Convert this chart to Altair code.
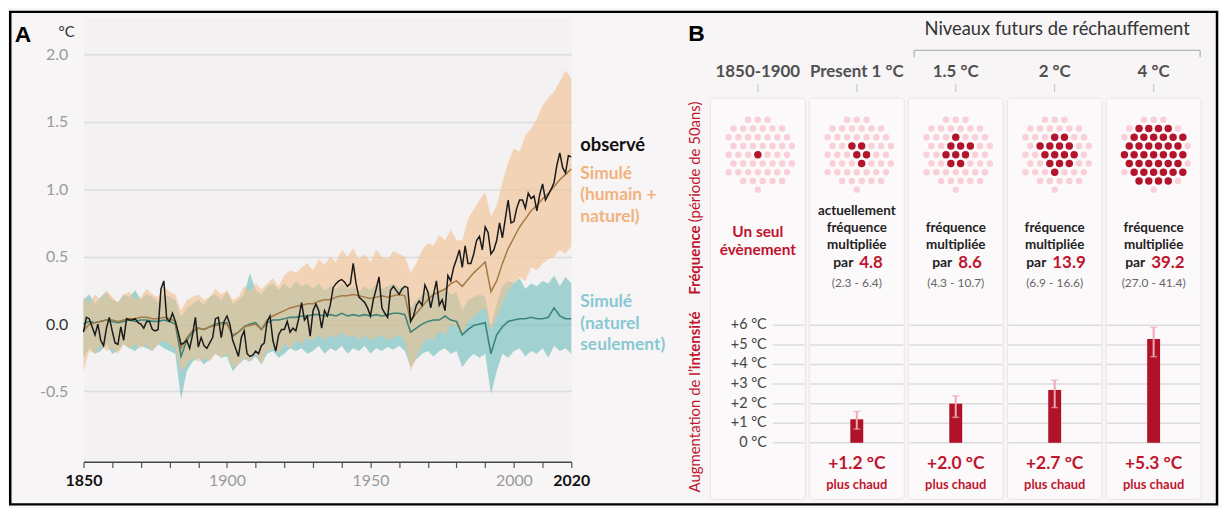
import altair as alt
import pandas as pd
import numpy as np

# ======================= DATA : panel A =======================
obs_years = list(range(1850, 2021))
obs_vals = [
    -0.06, 0.05, 0.04, -0.02, -0.08, 0.00, -0.12, -0.16, -0.03, 0.05,
    -0.05, -0.14, -0.15, -0.02, -0.12, 0.04, 0.03, 0.03, 0.04, 0.01,
    0.00, -0.03, 0.02, 0.02, -0.04, -0.05, -0.04, 0.26, 0.32, 0.04,
    0.02, 0.08, 0.02, -0.06, -0.15, -0.14, -0.12, -0.18, -0.08, 0.05,
    -0.17, -0.10, -0.16, -0.18, -0.14, -0.10, 0.04, 0.05, -0.10, 0.02,
    0.06, 0.00, -0.12, -0.18, -0.24, -0.10, -0.05, -0.22, -0.24, -0.23,
    -0.20, -0.22, -0.16, -0.14, 0.02, 0.06, -0.12, -0.20, -0.08, -0.04,
    -0.04, 0.02, -0.06, -0.03, -0.05, 0.04, 0.16, 0.03, 0.06, -0.09,
    0.10, 0.15, 0.10, -0.03, 0.10, 0.06, 0.14, 0.27, 0.30, 0.32,
    0.33, 0.31, 0.28, 0.30, 0.45, 0.30, 0.20, 0.18, 0.16, 0.12,
    0.06, 0.18, 0.26, 0.35, 0.12, 0.08, 0.05, 0.25, 0.28, 0.25,
    0.22, 0.26, 0.28, 0.27, 0.02, 0.06, 0.14, 0.17, 0.14, 0.29,
    0.24, 0.12, 0.22, 0.32, 0.14, 0.18, 0.10, 0.36, 0.32, 0.42,
    0.48, 0.55, 0.42, 0.58, 0.45, 0.45, 0.52, 0.62, 0.65, 0.55,
    0.72, 0.68, 0.52, 0.55, 0.62, 0.75, 0.64, 0.78, 0.92, 0.75,
    0.76, 0.86, 0.92, 0.92, 0.86, 0.97, 0.93, 0.95, 0.84, 0.96,
    1.04, 0.92, 0.96, 1.00, 1.05, 1.18, 1.27, 1.16, 1.12, 1.25,
    1.24,
]

sim_years = list(range(1850, 2021, 2))
hn_mean = [
    -0.05, 0.00, 0.01, 0.02, 0.03, 0.03, 0.02, 0.03, 0.04, 0.04,
    0.05, 0.05, 0.04, 0.04, 0.05, 0.04, 0.02, -0.18, -0.10, -0.05,
    -0.03, -0.04, -0.02, -0.01, 0.00, 0.00, -0.08, -0.06, -0.02, -0.01,
    0.00, -0.04, 0.03, 0.06, 0.08, 0.10, 0.12, 0.13, 0.14, 0.15,
    0.15, 0.17, 0.18, 0.18, 0.20, 0.21, 0.21, 0.22, 0.21, 0.20,
    0.19, 0.20, 0.21, 0.20, 0.21, 0.22, 0.21, 0.02, 0.08, 0.13,
    0.18, 0.22, 0.24, 0.26, 0.30, 0.32, 0.28, 0.33, 0.38, 0.42,
    0.46, 0.24, 0.32, 0.45, 0.56, 0.64, 0.72, 0.78, 0.84, 0.88,
    0.93, 0.97, 1.02, 1.07, 1.11, 1.15,
]
hn_hi = [
    0.20, 0.15, 0.22, 0.18, 0.25, 0.20, 0.16, 0.22, 0.24, 0.18,
    0.20, 0.26, 0.22, 0.20, 0.28, 0.24, 0.22, 0.10, 0.18, 0.20,
    0.22, 0.18, 0.20, 0.26, 0.22, 0.25, 0.18, 0.20, 0.28, 0.24,
    0.30, 0.26, 0.30, 0.34, 0.28, 0.36, 0.40, 0.38, 0.42, 0.45,
    0.40, 0.48, 0.44, 0.50, 0.46, 0.55, 0.50, 0.56, 0.48, 0.52,
    0.46, 0.55, 0.50, 0.48, 0.54, 0.52, 0.50, 0.38, 0.45, 0.55,
    0.60, 0.58, 0.66, 0.62, 0.70, 0.62, 0.62, 0.78, 0.85, 0.92,
    0.98, 0.80, 0.88, 1.05, 1.20, 1.30, 1.28, 1.40, 1.45, 1.52,
    1.62, 1.68, 1.72, 1.80, 1.88, 1.82,
]
hn_lo = [
    -0.35, -0.20, -0.22, -0.15, -0.20, -0.18, -0.22, -0.15, -0.18, -0.15,
    -0.18, -0.15, -0.20, -0.15, -0.12, -0.15, -0.18, -0.35, -0.30, -0.25,
    -0.28, -0.25, -0.28, -0.22, -0.25, -0.22, -0.32, -0.30, -0.25, -0.28,
    -0.22, -0.30, -0.20, -0.18, -0.22, -0.15, -0.18, -0.12, -0.15, -0.10,
    -0.12, -0.08, -0.12, -0.08, -0.10, -0.06, -0.10, -0.08, -0.12, -0.08,
    -0.12, -0.10, -0.08, -0.12, -0.10, -0.08, -0.12, -0.35, -0.25, -0.15,
    -0.10, -0.12, -0.05, -0.08, 0.00, -0.02, -0.08, 0.02, 0.05, 0.10,
    0.12, -0.05, 0.05, 0.15, 0.25, 0.30, 0.35, 0.32, 0.42, 0.40,
    0.45, 0.48, 0.50, 0.55, 0.52, 0.58,
]
nat_mean = [
    0.00, 0.02, 0.01, 0.02, 0.03, 0.02, 0.01, 0.02, 0.03, 0.02,
    0.03, 0.03, 0.02, 0.02, 0.03, 0.02, 0.00, -0.24, -0.12, -0.06,
    -0.03, -0.04, -0.02, 0.00, 0.01, 0.01, -0.09, -0.06, -0.02, 0.00,
    0.01, -0.04, 0.01, 0.03, 0.03, 0.04, 0.05, 0.05, 0.06, 0.06,
    0.07, 0.07, 0.06, 0.07, 0.06, 0.08, 0.06, 0.07, 0.06, 0.07,
    0.06, 0.07, 0.06, 0.07, 0.08, 0.08, 0.07, -0.06, -0.03, 0.00,
    0.02, 0.03, 0.03, 0.06, 0.03, 0.02, -0.08, -0.04, -0.01, 0.00,
    0.01, -0.22, -0.08, -0.02, 0.02, 0.03, 0.04, 0.04, 0.05, 0.04,
    0.04, 0.05, 0.12, 0.06, 0.04, 0.04,
]
nat_hi = [
    0.18, 0.22, 0.15, 0.20, 0.24, 0.18, 0.16, 0.22, 0.20, 0.25,
    0.18, 0.22, 0.20, 0.16, 0.22, 0.20, 0.18, 0.05, 0.12, 0.15,
    0.18, 0.14, 0.20, 0.22, 0.18, 0.24, 0.15, 0.18, 0.22, 0.38,
    0.25, 0.22, 0.28, 0.30, 0.25, 0.30, 0.26, 0.32, 0.28, 0.30,
    0.26, 0.30, 0.25, 0.28, 0.26, 0.30, 0.26, 0.28, 0.24, 0.28,
    0.25, 0.30, 0.26, 0.28, 0.30, 0.27, 0.28, 0.12, 0.18, 0.22,
    0.25, 0.22, 0.24, 0.26, 0.22, 0.24, 0.10, 0.18, 0.20, 0.22,
    0.20, -0.02, 0.15, 0.28, 0.32, 0.30, 0.34, 0.26, 0.30, 0.28,
    0.32, 0.30, 0.36, 0.28, 0.35, 0.30,
]
nat_lo = [
    -0.25, -0.18, -0.22, -0.20, -0.15, -0.22, -0.20, -0.15, -0.18, -0.20,
    -0.16, -0.18, -0.20, -0.15, -0.18, -0.20, -0.22, -0.56, -0.35, -0.28,
    -0.25, -0.30, -0.26, -0.22, -0.25, -0.24, -0.35, -0.30, -0.26, -0.28,
    -0.24, -0.30, -0.22, -0.20, -0.25, -0.22, -0.18, -0.20, -0.18, -0.22,
    -0.20, -0.16, -0.22, -0.18, -0.20, -0.16, -0.22, -0.18, -0.20, -0.16,
    -0.22, -0.18, -0.20, -0.17, -0.19, -0.16, -0.20, -0.32, -0.26, -0.22,
    -0.20, -0.24, -0.20, -0.18, -0.22, -0.20, -0.32, -0.26, -0.22, -0.25,
    -0.22, -0.52, -0.35, -0.22, -0.25, -0.20, -0.18, -0.24, -0.20, -0.22,
    -0.18, -0.25, -0.16, -0.20, -0.18, -0.22,
]

x_ticks_a = list(range(1850, 2021, 10))
x_labels_a = [1850, 1900, 1950, 2000, 2020]
y_ticks_a = [-0.5, 0.0, 0.5, 1.0, 1.5, 2.0]

legend_text = ["observé", "Simulé", "(humain +", "naturel)", "Simulé", "(naturel", "seulement)"]
legend_y = [1.33, 1.115, 0.955, 0.792, 0.166, 0.004, -0.158]

# ======================= DATA : panel B =======================
periods = ["1850-1900", "Present 1 °C", "1.5 °C", "2 °C", "4 °C"]
future_title = "Niveaux futurs de réchauffement"
freq_mult = [1.0, 4.8, 8.6, 13.9, 39.2]
freq_lo = [None, 2.3, 4.3, 6.9, 27.0]
freq_hi = [None, 6.4, 10.7, 16.6, 41.4]
dots_total = 50
intensity = [None, 1.2, 2.0, 2.7, 5.3]
int_lo = [None, 0.7, 1.3, 1.8, 4.4]
int_hi = [None, 1.6, 2.4, 3.2, 5.9]
deg_ticks = [0, 1, 2, 3, 4, 5, 6]

# ======================= STYLE =======================
FONT = "Lato"
BG = "#f8f5f6"
PLOT_BG = "#f3f1f1"
TEAL_FILL = "#5db8b6"
ORANGE_FILL = "#f2c08e"
TEAL_LINE = "#3d8577"
BROWN_LINE = "#a57a45"
ORANGE_TXT = "#f2b27e"
TEAL_TXT = "#88c8d2"
RED = "#c0152f"
BAR_RED = "#b01228"
PINK_DOT = "#f9cfd8"
RED_DOT = "#b3142c"
CARD = "#fcf9fa"
CARD_STROKE = "#ebe2e4"

A_W, A_H = 491, 447
B_W, B_H = 508, 485
GAP = 133
UNIT = B_W / 5.0

# ======================= PANEL A =======================
obs_df = pd.DataFrame({"year": obs_years, "t": obs_vals})
sim_df = pd.DataFrame({"year": sim_years, "hn": hn_mean, "hn_lo": hn_lo, "hn_hi": hn_hi,
                       "nat": nat_mean, "nat_lo": nat_lo, "nat_hi": nat_hi})

xs = alt.Scale(domain=[1850, 2020], nice=False, zero=False)
ys = alt.Scale(domain=[-1.02, 2.2725], nice=False, zero=False)

show = "||".join(f"datum.value=={v}" for v in x_labels_a)
x_axis = alt.Axis(
    values=x_ticks_a, format="d", title="",
    labelExpr=f"({show}) ? datum.label : ''",
    labelFontSize=16, labelFont=FONT, labelPadding=5, labelOverlap=False, labelFlush=False,
    labelColor={"condition": {"test": "datum.value==1850||datum.value==2020", "value": "#111111"}, "value": "#9a9a9a"},
    labelFontWeight={"condition": {"test": "datum.value==1850||datum.value==2020", "value": "bold"}, "value": "normal"},
    domainColor="#444444", domainWidth=1.5, tickColor="#555555", tickSize=6, tickWidth=1.2, grid=False,
)
y_axis = alt.Axis(
    values=y_ticks_a, format=".1f", title="", domain=False, ticks=False,
    labelExpr="replace(datum.label, '\u2212', '-')",
    labelFontSize=16, labelFont=FONT, labelPadding=16,
    labelColor={"condition": {"test": "datum.value==0", "value": "#333333"}, "value": "#9a9a9a"},
    gridColor="#dcdcdc", gridWidth=1.5,
)


def XA(f):
    return alt.X(f, scale=xs, axis=x_axis)


def YA(f):
    return alt.Y(f, scale=ys, axis=y_axis)


band_nat = alt.Chart(sim_df).mark_area(color=TEAL_FILL, opacity=0.55).encode(
    x=XA("year:Q"), y=YA("nat_lo:Q"), y2="nat_hi")
band_hn = alt.Chart(sim_df).mark_area(color=ORANGE_FILL, opacity=0.6).encode(
    x=XA("year:Q"), y=YA("hn_lo:Q"), y2="hn_hi")
line_nat = alt.Chart(sim_df).mark_line(color=TEAL_LINE, strokeWidth=1.6).encode(
    x=XA("year:Q"), y=YA("nat:Q"))
line_hn = alt.Chart(sim_df).mark_line(color=BROWN_LINE, strokeWidth=1.5).encode(
    x=XA("year:Q"), y=YA("hn:Q"))
line_obs = alt.Chart(obs_df).mark_line(color="#1a1a1a", strokeWidth=1.5).encode(
    x=XA("year:Q"), y=YA("t:Q"))

leg_df = pd.DataFrame({"t": legend_text, "y": legend_y})
leg_obs = alt.Chart(leg_df.iloc[:1]).mark_text(align="left", baseline="middle", fontSize=18.5,
                                                fontWeight="bold", color="#111111", font=FONT).encode(
    x=alt.value(A_W + 9), y=YA("y:Q"), text="t:N")
leg_hn = alt.Chart(leg_df.iloc[1:4]).mark_text(align="left", baseline="middle", fontSize=17.5,
                                               fontWeight="bold", color=ORANGE_TXT, font=FONT).encode(
    x=alt.value(A_W + 9), y=YA("y:Q"), text="t:N")
leg_nat = alt.Chart(leg_df.iloc[4:]).mark_text(align="left", baseline="middle", fontSize=17.5,
                                               fontWeight="bold", color=TEAL_TXT, font=FONT).encode(
    x=alt.value(A_W + 9), y=YA("y:Q"), text="t:N")

one = pd.DataFrame({"t": ["A"], "u": ["°C"]})
lab_a = alt.Chart(one).mark_text(fontSize=23, fontWeight="bold", font="Liberation Sans",
                                 color="#000000", baseline="middle").encode(
    x=alt.value(-61), y=alt.value(18), text="t:N")
lab_unit = alt.Chart(one).mark_text(fontSize=15, font=FONT, color="#333333", baseline="middle").encode(
    x=alt.value(-17), y=alt.value(15), text="u:N")

panel_a = alt.layer(band_nat, band_hn, line_nat, line_hn, line_obs,
                    leg_obs, leg_hn, leg_nat, lab_a, lab_unit).properties(
    width=A_W, height=A_H, view=alt.ViewBackground(fill=PLOT_BG, stroke="transparent"))

# ======================= PANEL B =======================
XB = alt.Scale(domain=[0, 5], nice=False, zero=False)
ROW = alt.Scale(domain=[0, B_H], reverse=True, nice=False, zero=False)      # layout rows
DEG = alt.Scale(domain=[-2.893, 21.726], nice=False, zero=False)            # °C scale


def txt(df, yscale, size, color, weight="normal", align="center", angle=0, dx=0, font=FONT):
    return alt.Chart(df).mark_text(fontSize=size, color=color, fontWeight=weight, align=align,
                                   angle=angle, dx=dx, font=font, baseline="middle").encode(
        x=alt.X("x:Q", scale=XB, axis=None),
        y=alt.Y("y:Q", scale=yscale, axis=None),
        text="t:N")


layers = []

# cards
cards_df = pd.DataFrame({"x0": [i + 0.02 for i in range(5)], "x1": [i + 0.98 for i in range(5)],
                         "y0": [81] * 5, "y1": [B_H] * 5})
layers.append(alt.Chart(cards_df).mark_rect(fill=CARD, stroke=CARD_STROKE, strokeWidth=1, cornerRadius=4).encode(
    x=alt.X("x0:Q", scale=XB, axis=None), x2="x1",
    y=alt.Y("y0:Q", scale=ROW, axis=None), y2="y1"))

# headers
centers = [i + 0.5 for i in range(5)]
layers.append(txt(pd.DataFrame({"x": centers, "y": [55] * 5, "t": periods}), ROW, 17, "#505050", "bold"))
tick_df = pd.DataFrame({"x": centers, "y0": [67] * 5, "y1": [75] * 5})
layers.append(alt.Chart(tick_df).mark_rule(color="#c8c8c8", strokeWidth=1.2).encode(
    x=alt.X("x:Q", scale=XB, axis=None), y=alt.Y("y0:Q", scale=ROW, axis=None), y2="y1"))

# future bracket
br_x0, br_x1 = 2 + 0.08, 5 - 0.03
layers.append(txt(pd.DataFrame({"x": [(br_x0 + br_x1) / 2], "y": [12], "t": [future_title]}),
                  ROW, 18.5, "#333333"))
layers.append(alt.Chart(pd.DataFrame({"x0": [br_x0], "x1": [br_x1], "y": [33]})).mark_rule(
    color="#b5b5b5", strokeWidth=1.3).encode(
    x=alt.X("x0:Q", scale=XB, axis=None), x2="x1", y=alt.Y("y:Q", scale=ROW, axis=None)))
layers.append(alt.Chart(pd.DataFrame({"x": [br_x0, br_x1], "y0": [33, 33], "y1": [40, 40]})).mark_rule(
    color="#b5b5b5", strokeWidth=1.3).encode(
    x=alt.X("x:Q", scale=XB, axis=None), y=alt.Y("y0:Q", scale=ROW, axis=None), y2="y1"))

# dot clusters
SX, SY = 10.0, 8.8
pts = []
for r in range(-7, 8):
    for c in range(-7, 8):
        px = (c + 0.5 * (r % 2)) * SX
        py = r * SY
        pts.append((px, py, np.hypot(px - 1.5, py + 1.0)))
pts.sort(key=lambda p: p[2])
pts = pts[:dots_total]
DOT_ROW = 138
dot_rows = []
for i, m in enumerate(freq_mult):
    k = int(round(m))
    for j, (px, py, _) in enumerate(pts):
        dot_rows.append({"x": centers[i] + px / UNIT, "y": DOT_ROW + py, "red": j < k})
dots_df = pd.DataFrame(dot_rows)
layers.append(alt.Chart(dots_df[~dots_df.red]).mark_circle(color=PINK_DOT, opacity=1, size=42).encode(
    x=alt.X("x:Q", scale=XB, axis=None), y=alt.Y("y:Q", scale=ROW, axis=None)))
layers.append(alt.Chart(dots_df[dots_df.red]).mark_circle(color=RED_DOT, opacity=1, size=56).encode(
    x=alt.X("x:Q", scale=XB, axis=None), y=alt.Y("y:Q", scale=ROW, axis=None)))

# card 1 text
layers.append(txt(pd.DataFrame({"x": [centers[0]] * 2, "y": [216, 234], "t": ["Un seul", "évènement"]}),
                  ROW, 15.5, RED, "bold"))
# cards 2-5 text
body = []
for i in range(1, 5):
    lines = (["actuellement"] if i == 1 else []) + ["fréquence", "multipliée"]
    rows = [195, 212, 229] if i == 1 else [212, 229]
    for t, y in zip(lines, rows):
        body.append({"x": centers[i], "y": y, "t": t})
layers.append(txt(pd.DataFrame(body), ROW, 13.5, "#222222", "bold"))
rng = pd.DataFrame({"x": centers[1:], "y": [267] * 4,
                    "t": [f"({freq_lo[i]:.1f} - {freq_hi[i]:.1f})" for i in range(1, 5)]})
layers.append(txt(rng, ROW, 12, "#666666"))
for i in range(1, 5):
    num = f"{freq_mult[i]:.1f}"
    wn = sum(9.8 if ch.isdigit() else 4.4 for ch in num)
    W = 23 + 6 + wn
    d = pd.DataFrame({"x": [centers[i]], "y": [247], "t": ["par"], "n": [num]})
    layers.append(txt(d, ROW, 14, "#222222", "bold", align="right", dx=-W / 2 + 23))
    layers.append(alt.Chart(d).mark_text(fontSize=17, color=RED, fontWeight="bold", align="left",
                                         dx=-W / 2 + 29, font=FONT, baseline="middle").encode(
        x=alt.X("x:Q", scale=XB, axis=None), y=alt.Y("y:Q", scale=ROW, axis=None), text="n:N"))

# rotated titles
TX = -0.138
layers.append(txt(pd.DataFrame({"x": [TX], "y": [279], "t": ["Fréquence"]}), ROW, 15, RED, "bold",
                  align="left", angle=270))
layers.append(txt(pd.DataFrame({"x": [TX], "y": [206], "t": ["(période de 50ans)"]}), ROW, 15, RED,
                  align="left", angle=270))
layers.append(txt(pd.DataFrame({"x": [TX], "y": [478], "t": ["Augmentation de l’"]}), ROW, 15, RED,
                  align="left", angle=270))
layers.append(txt(pd.DataFrame({"x": [TX], "y": [354], "t": ["intensité"]}), ROW, 15, RED, "bold",
                  align="left", angle=270))

# intensity gridlines + labels
grid = []
for t in deg_ticks:
    for i in range(5):
        grid.append({"x0": 0.65 if i == 0 else i + 0.03, "x1": i + 0.97, "v": t})
layers.append(alt.Chart(pd.DataFrame(grid)).mark_rule(color="#dcdcdc", strokeWidth=1.5).encode(
    x=alt.X("x0:Q", scale=XB, axis=None), x2="x1", y=alt.Y("v:Q", scale=DEG, axis=None)))
lab_df = pd.DataFrame({"x": [0.59] * len(deg_ticks), "y": deg_ticks,
                       "t": [("0 °C" if t == 0 else f"+{t} °C") for t in deg_ticks]})
layers.append(txt(lab_df, DEG, 14.5, "#444444", align="right"))

# bars with error bars
bars_df = pd.DataFrame({"x": centers[1:], "v": intensity[1:], "lo": int_lo[1:], "hi": int_hi[1:]})
layers.append(alt.Chart(bars_df).mark_bar(size=13, color=BAR_RED, orient="vertical").encode(
    x=alt.X("x:Q", scale=XB, axis=None), y=alt.Y("v:Q", scale=DEG, axis=None), y2=alt.datum(0)))
layers.append(alt.Chart(bars_df).mark_rule(color="#eeaab5", strokeWidth=2).encode(
    x=alt.X("x:Q", scale=XB, axis=None), y=alt.Y("lo:Q", scale=DEG, axis=None), y2="hi"))
layers.append(alt.Chart(bars_df).mark_tick(color="#eeaab5", orient="horizontal", size=7, thickness=1.5).encode(
    x=alt.X("x:Q", scale=XB, axis=None), y=alt.Y("lo:Q", scale=DEG, axis=None)))
layers.append(alt.Chart(bars_df).mark_tick(color="#eeaab5", orient="horizontal", size=7, thickness=1.5).encode(
    x=alt.X("x:Q", scale=XB, axis=None), y=alt.Y("hi:Q", scale=DEG, axis=None)))

# bottom labels
layers.append(txt(pd.DataFrame({"x": centers[1:], "y": [449] * 4,
                                "t": [f"+{v:.1f} °C" for v in intensity[1:]]}), ROW, 17.5, RED, "bold"))
layers.append(txt(pd.DataFrame({"x": centers[1:], "y": [471] * 4, "t": ["plus chaud"] * 4}),
                  ROW, 13, RED, "bold"))

# "B" label and outer frame
oneb = pd.DataFrame({"t": ["B"]})
layers.append(alt.Chart(oneb).mark_text(fontSize=23, fontWeight="bold", font="Liberation Sans",
                                        color="#000000", baseline="middle").encode(
    x=alt.value(-7), y=alt.value(17), text="t:N"))
layers.append(alt.Chart(oneb).mark_rect(fillOpacity=0, stroke="#000000", strokeWidth=2.5).encode(
    x=alt.value(9.25 - 707), x2=alt.value(1224 - 707), y=alt.value(9.25 - 15), y2=alt.value(505 - 15)))

panel_b = alt.layer(*layers).resolve_scale(y="independent").properties(width=B_W, height=B_H)

chart = alt.hconcat(panel_a, panel_b, spacing=GAP, bounds="flush").properties(padding=0).configure(
    background=BG, font=FONT).configure_view(stroke="transparent")

chart.save("out.html", embed_options={"renderer": "svg", "actions": False})
